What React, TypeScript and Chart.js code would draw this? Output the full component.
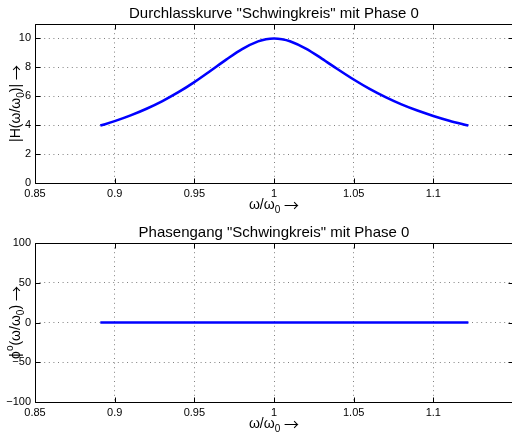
import React, { useEffect, useRef } from 'react';
import { Chart, registerables } from 'chart.js';

Chart.register(...registerables);

// ---------- data ----------
const omega = [0.891, 0.9, 0.91, 0.92, 0.93, 0.94, 0.95, 0.96, 0.97, 0.98, 0.99, 0.995, 1.0, 1.005, 1.01, 1.02, 1.03, 1.04, 1.05, 1.06, 1.07, 1.08, 1.09, 1.1, 1.11, 1.122];
const magnitude = [3.97, 4.28, 4.68, 5.14, 5.67, 6.28, 6.98, 7.75, 8.54, 9.27, 9.80, 9.95, 10.0, 9.95, 9.81, 9.30, 8.61, 7.87, 7.16, 6.51, 5.94, 5.44, 5.01, 4.64, 4.31, 3.98];
const phaseOmega = [0.891, 0.95, 1.0, 1.05, 1.122];
const phaseDeg = [0, 0, 0, 0, 0];

const xTicks = [0.85, 0.9, 0.95, 1, 1.05, 1.1];
const magTicks = [0, 2, 4, 6, 8, 10];
const phaseTicks = [-100, -50, 0, 50, 100];

const titleMag = 'Durchlasskurve "Schwingkreis" mit Phase 0';
const titlePhase = 'Phasengang "Schwingkreis" mit Phase 0';

type Part = { t: string; s?: 'sub' | 'sup' | 'arrow' };
const xLabelParts: Part[] = [{ t: 'ω/ω' }, { t: '0', s: 'sub' }, { t: ' ' }, { t: '→', s: 'arrow' }];
const magLabelParts: Part[] = [{ t: '|H(ω/ω' }, { t: '0', s: 'sub' }, { t: ')| ' }, { t: '→', s: 'arrow' }];
const phaseLabelParts: Part[] = [{ t: 'ϕ' }, { t: 'o', s: 'sup' }, { t: '(ω/ω' }, { t: '0', s: 'sub' }, { t: ') ' }, { t: '→', s: 'arrow' }];

const FONT = '"Liberation Sans", Arial, Helvetica, sans-serif';
const ARROW_FONT = '"Noto Sans CJK JP", "DejaVu Sans", sans-serif';
const CANVAS_W = 520;

function partFont(p: Part, size: number) {
  if (p.s === 'arrow') return `${Math.round(size * 1.1)}px ${ARROW_FONT}`;
  if (p.s === 'sub' || p.s === 'sup') return `${Math.round(size * 0.72)}px ${FONT}`;
  return `${size}px ${FONT}`;
}

function drawParts(ctx: CanvasRenderingContext2D, parts: Part[], size: number, x: number, y: number, rotate: boolean) {
  ctx.save();
  ctx.translate(x, y);
  if (rotate) ctx.rotate(-Math.PI / 2);
  const widths = parts.map((p) => {
    ctx.font = partFont(p, size);
    return ctx.measureText(p.t).width;
  });
  const total = widths.reduce((a, b) => a + b, 0);
  let cx = -total / 2;
  ctx.textAlign = 'left';
  ctx.textBaseline = 'alphabetic';
  ctx.fillStyle = '#000';
  parts.forEach((p, i) => {
    ctx.font = partFont(p, size);
    const dy = p.s === 'sub' ? size * 0.32 : p.s === 'sup' ? -size * 0.5 : p.s === 'arrow' ? size * 0.12 : 0;
    ctx.fillText(p.t, cx, dy);
    cx += widths[i];
  });
  ctx.restore();
}

type PanelProps = {
  xs: number[];
  ys: number[];
  yMin: number;
  yMax: number;
  yTicks: number[];
  title: string;
  yLabel: Part[];
  height: number;
  areaTop: number;
  areaBottom: number;
};

function Panel(props: PanelProps) {
  const ref = useRef<HTMLCanvasElement | null>(null);
  useEffect(() => {
    const canvas = ref.current;
    if (!canvas) return;
    const { xs, ys, yMin, yMax, yTicks, title, yLabel, height, areaTop, areaBottom } = props;
    const decor = {
      id: 'matlabDecor',
      afterDraw(chart: any) {
        const ctx: CanvasRenderingContext2D = chart.ctx;
        const { left, right, top, bottom } = chart.chartArea;
        const sx = chart.scales.x;
        const sy = chart.scales.y;
        ctx.save();
        ctx.strokeStyle = '#000';
        ctx.lineWidth = 1;
        const L = Math.round(left) + 0.5;
        const R = Math.round(right) + 0.5;
        const T = Math.round(top) + 0.5;
        const B = Math.round(bottom) + 0.5;
        ctx.beginPath();
        ctx.rect(L, T, R - L, B - T);
        const tl = 5;
        xTicks.forEach((v) => {
          const px = Math.round(sx.getPixelForValue(v)) + 0.5;
          ctx.moveTo(px, B);
          ctx.lineTo(px, B - tl);
          ctx.moveTo(px, T);
          ctx.lineTo(px, T + tl);
        });
        yTicks.forEach((v) => {
          const py = Math.round(sy.getPixelForValue(v)) + 0.5;
          ctx.moveTo(L, py);
          ctx.lineTo(L + tl, py);
          ctx.moveTo(R, py);
          ctx.lineTo(R - tl, py);
        });
        ctx.stroke();
        // title
        const cxm = (left + right) / 2;
        ctx.fillStyle = '#000';
        ctx.font = `15px ${FONT}`;
        ctx.textAlign = 'center';
        ctx.textBaseline = 'alphabetic';
        ctx.fillText(title, cxm, top - 6);
        ctx.restore();
        // axis labels
        drawParts(ctx, xLabelParts, 14, cxm, bottom + 26, false);
        drawParts(ctx, yLabel, 14, 20, (top + bottom) / 2, true);
      },
    };
    const chart = new Chart(canvas, {
      type: 'line',
      data: {
        datasets: [
          {
            data: xs.map((x, i) => ({ x, y: ys[i] })),
            borderColor: '#0000ff',
            backgroundColor: '#0000ff',
            borderWidth: 2.6,
            pointRadius: 0,
            cubicInterpolationMode: 'monotone',
            fill: false,
          },
        ],
      },
      options: {
        responsive: false,
        animation: false,
        devicePixelRatio: 1,
        layout: { padding: { top: areaTop, right: CANVAS_W - 513, bottom: 0, left: 0 } },
        plugins: { legend: { display: false }, title: { display: false }, tooltip: { enabled: false } },
        scales: {
          x: {
            type: 'linear',
            min: 0.85,
            max: 1.15,
            afterBuildTicks: (scale: any) => {
              scale.ticks = xTicks.map((v) => ({ value: v }));
            },
            afterFit: (scale: any) => {
              scale.height = height - areaBottom;
            },
            grid: { color: '#808080', lineWidth: 1, drawTicks: false },
            border: { display: false, dash: [1, 3.6] },
            ticks: {
              autoSkip: false,
              maxRotation: 0,
              padding: 4,
              color: '#000',
              font: { family: FONT, size: 11 },
              callback: (v: any) => String(v),
            },
          },
          y: {
            type: 'linear',
            min: yMin,
            max: yMax,
            afterBuildTicks: (scale: any) => {
              scale.ticks = yTicks.map((v) => ({ value: v }));
            },
            afterFit: (scale: any) => {
              scale.width = 35;
            },
            grid: { color: '#808080', lineWidth: 1, drawTicks: false },
            border: { display: false, dash: [1, 3.6] },
            ticks: {
              padding: 4,
              color: '#000',
              font: { family: FONT, size: 11 },
              callback: (v: any) => (v < 0 ? '\u2212' + String(-v) : String(v)),
            },
          },
        },
      },
      plugins: [decor],
    } as any);
    return () => chart.destroy();
  }, []);
  return <canvas ref={ref} width={CANVAS_W} height={props.height} style={{ display: 'block' }} />;
}

export default function App() {
  return (
    <div style={{ position: 'fixed', left: 0, top: 0, width: CANVAS_W, height: 438, background: '#fff', overflow: 'hidden' }}>
      <div style={{ position: 'absolute', left: 0, top: 0 }}>
        <Panel xs={omega} ys={magnitude} yMin={0} yMax={11} yTicks={magTicks} title={titleMag} yLabel={magLabelParts} height={220} areaTop={24} areaBottom={183} />
      </div>
      <div style={{ position: 'absolute', left: 0, top: 220 }}>
        <Panel xs={phaseOmega} ys={phaseDeg} yMin={-100} yMax={100} yTicks={phaseTicks} title={titlePhase} yLabel={phaseLabelParts} height={218} areaTop={23} areaBottom={182} />
      </div>
    </div>
  );
}
